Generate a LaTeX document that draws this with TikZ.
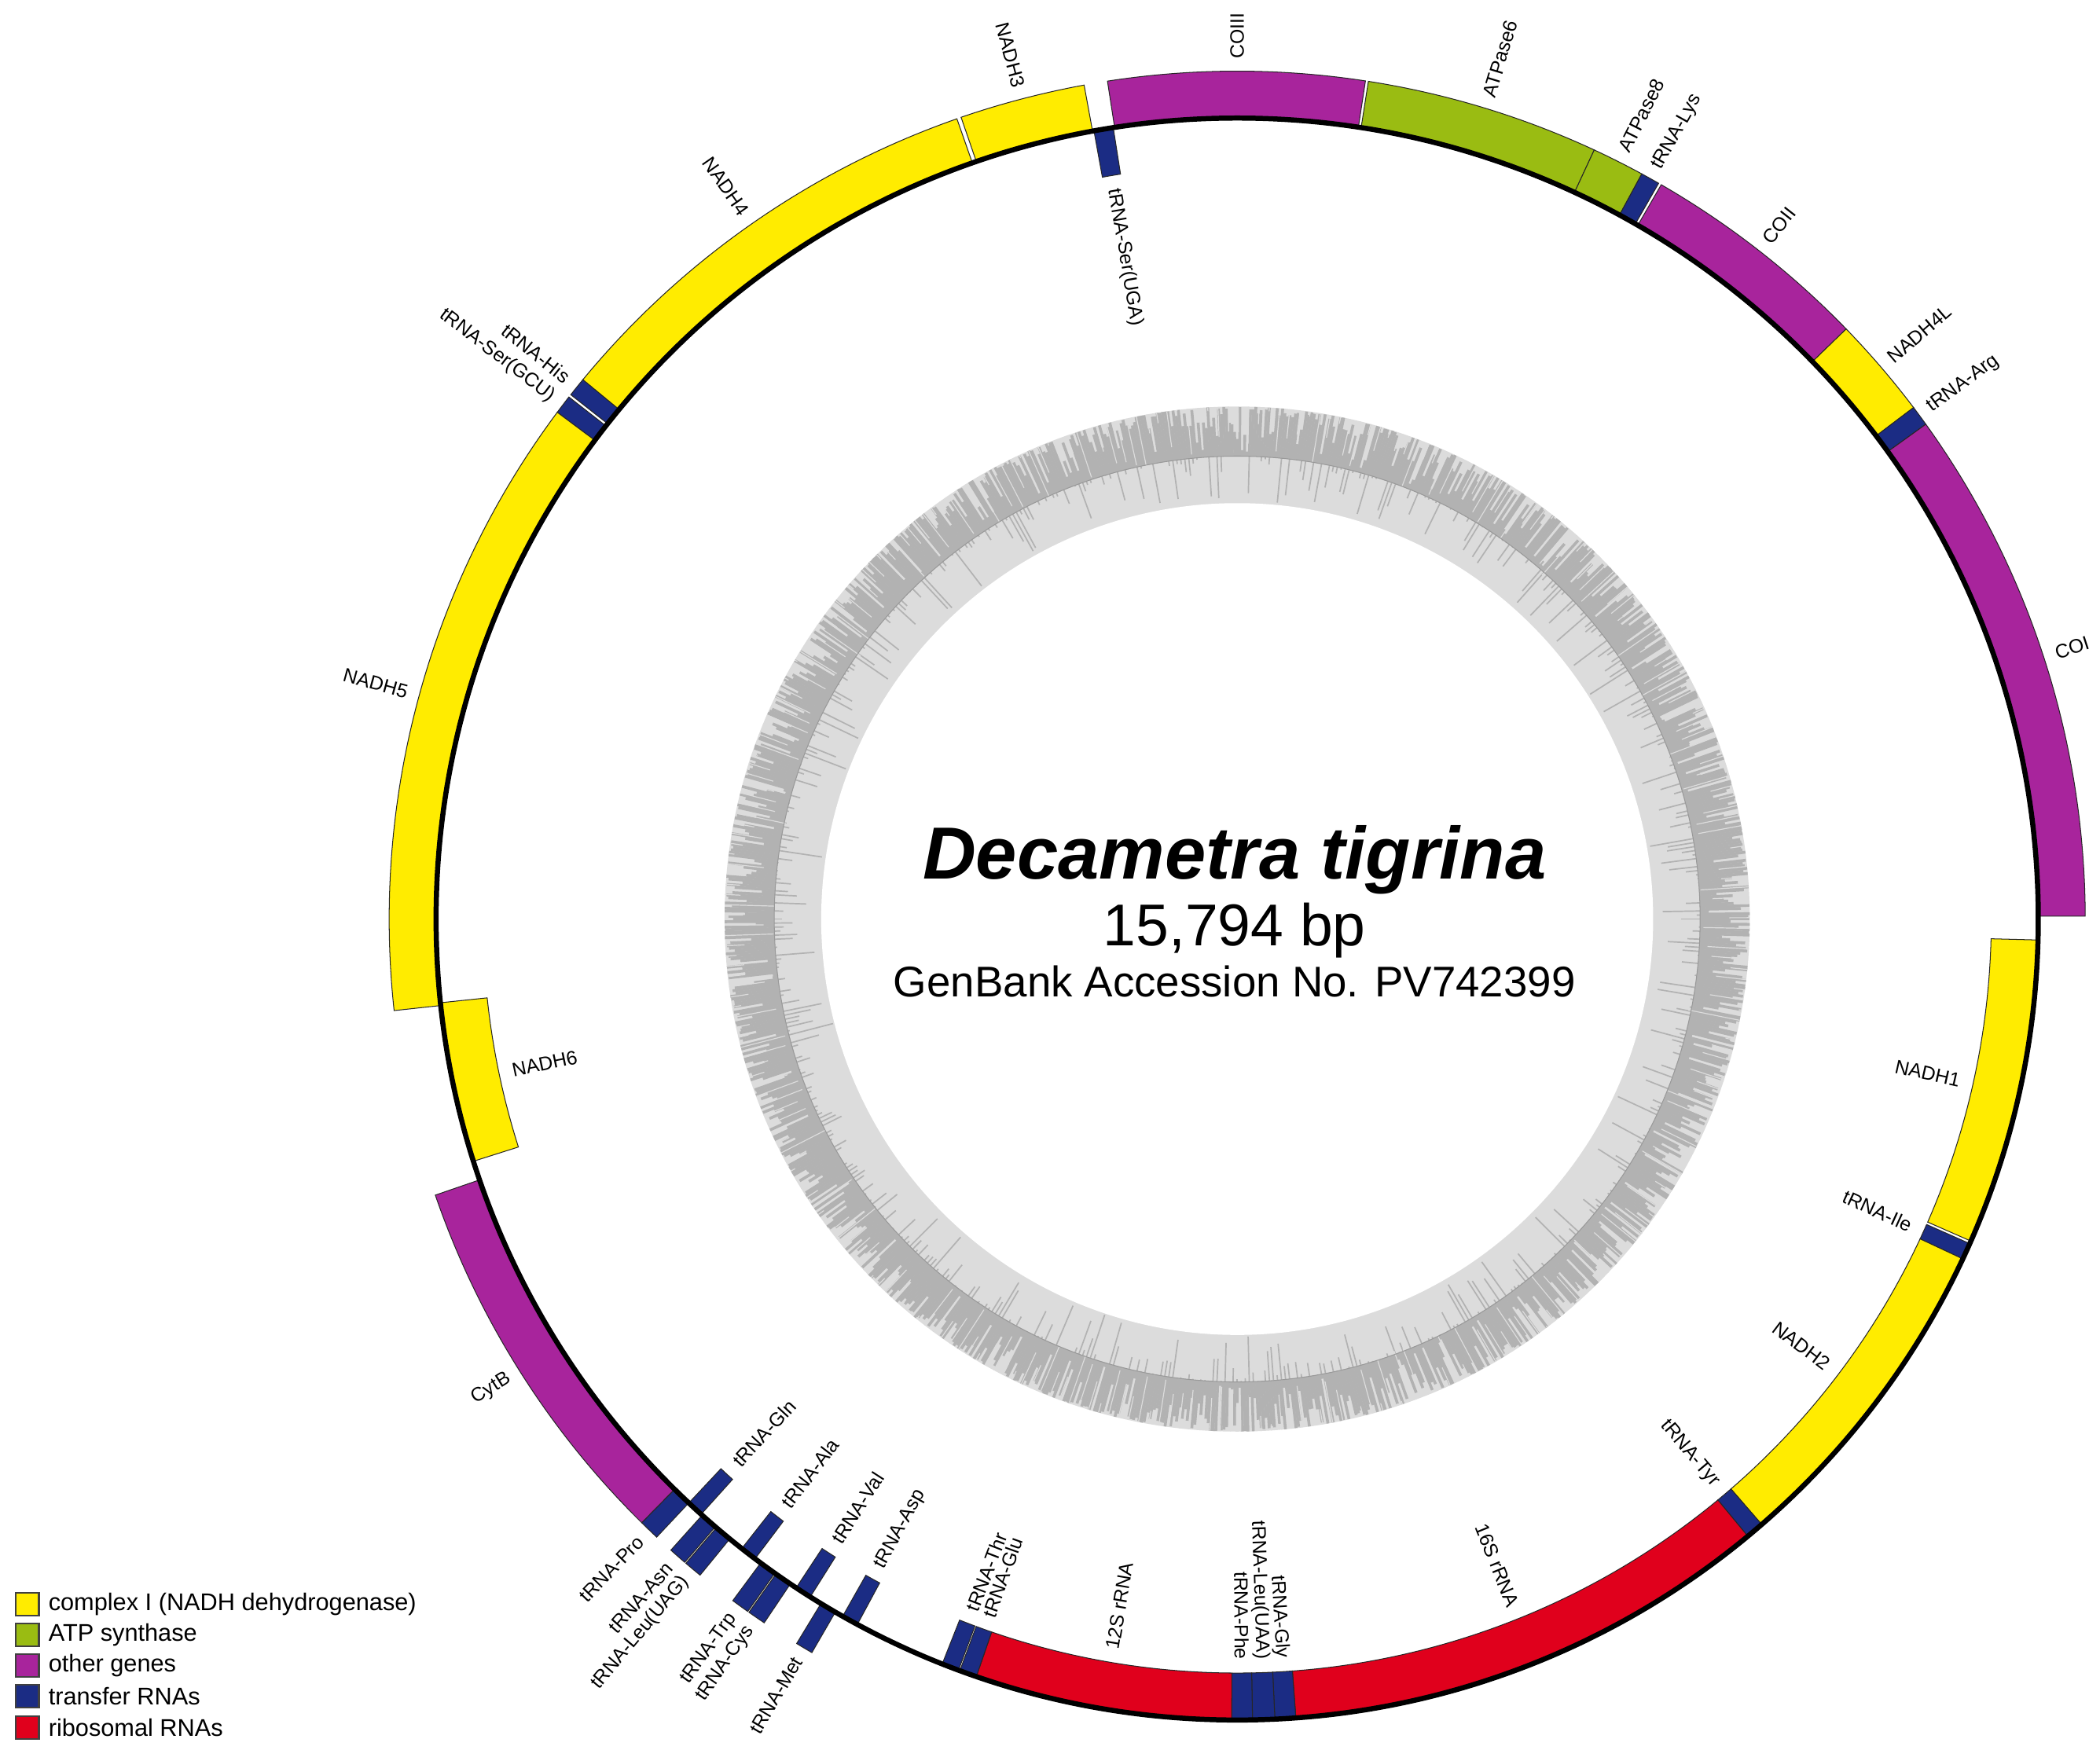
\documentclass[tikz,border=0pt]{standalone}
\usepackage{fontspec}
\setmainfont{Liberation Sans}
\definecolor{cyel}{HTML}{FFEC00}
\definecolor{cgrn}{HTML}{9ABC12}
\definecolor{cpur}{HTML}{A8249C}
\definecolor{ctrn}{HTML}{1B2C84}
\definecolor{crib}{HTML}{E0001C}
\definecolor{gclight}{HTML}{DCDCDC}
\definecolor{gcdark}{HTML}{B2B2B2}
\newcounter{labcnt}
\tikzset{lab/.style={font=\fontsize{14.5}{16}\selectfont, inner sep=0pt, text=black},
 genebox/.style={draw=black!85, line width=0.6}}
% theta1 theta2 r1 r2 colour (angles clockwise from top)
\newcommand\garc[5]{%
 \fill[#5, genebox] ({90-(#1)}:#3) arc[start angle={90-(#1)}, end angle={90-(#2)}, radius=#3] -- ({90-(#2)}:#4) arc[start angle={90-(#2)}, end angle={90-(#1)}, radius=#4] -- cycle;}
\newcommand\og[3]{\garc{#1}{#2}{597}{632}{#3}}
\newcommand\ig[3]{\garc{#1}{#2}{562}{597}{#3}}
\newcommand\olab[2]{\stepcounter{labcnt}%
 \pgfmathsetmacro\aa{90-(#1)}\pgfmathsetmacro\cc{cos(\aa)}\pgfmathsetmacro\bb{\aa+180}%
 \ifdim\cc pt<0pt \node[lab,anchor=east,rotate=\bb] (lab\thelabcnt) at (\aa:641) {#2};%
 \else \node[lab,anchor=west,rotate=\aa] (lab\thelabcnt) at (\aa:641) {#2};\fi}
\newcommand\ilab[2]{\stepcounter{labcnt}%
 \pgfmathsetmacro\aa{90-(#1)}\pgfmathsetmacro\cc{cos(\aa)}\pgfmathsetmacro\bb{\aa+180}%
 \ifdim\cc pt<0pt \node[lab,anchor=west,rotate=\bb] (lab\thelabcnt) at (\aa:552) {#2};%
 \else \node[lab,anchor=east,rotate=\aa] (lab\thelabcnt) at (\aa:552) {#2};\fi}
\begin{document}
\begin{tikzpicture}[x=1pt,y=1pt]
\useasboundingbox[fill=white] (-922,-619) rectangle (643,685);
% GC ring
\pgfmathsetseed{42}
\fill[gclight] (0,0) circle (382);
\fill[white] (0,0) circle (310);
\foreach \i in {0,0.3,...,359.9}{\pgfmathsetmacro\ro{382-34*rnd^3}\draw[gcdark,line width=2.1] (\i:345) -- (\i:\ro);}
\foreach \i in {0,0.5,...,359.9}{\pgfmathsetmacro\ri{345-34*rnd^5}\draw[gcdark,line width=1] (\i:345) -- (\i:\ri);}
\foreach \i in {0.15,1.3,...,359.9}{\pgfmathsetmacro\rl{382-40*rnd}\draw[gclight,line width=0.7] (\i:\rl) -- (\i:382);}
\draw[black!40,line width=0.6] (0,0) circle (345);
% outer strand
\og{-8.8}{8.7}{cpur}
\og{8.9}{24.9}{cgrn}
\og{24.9}{28.5}{cgrn}
\og{28.5}{29.8}{ctrn}
\og{30.0}{45.9}{cpur}
\og{45.9}{52.9}{cyel}
\og{52.9}{54.3}{ctrn}
\og{54.3}{89.8}{cpur}
\og{-19.0}{-10.4}{cyel}
\og{-50.5}{-19.3}{cyel}
\og{-51.8}{-50.5}{ctrn}
\og{-53.3}{-52.0}{ctrn}
\og{-96.2}{-53.3}{cyel}
\og{-109}{-135.4}{cpur}
\og{-135.4}{-136.8}{ctrn}
\og{-138.1}{-139.35}{ctrn}
\og{-139.45}{-140.7}{ctrn}
\og{-143.5}{-144.75}{ctrn}
\og{-144.85}{-146.1}{ctrn}
\og{-148.7}{-149.9}{ctrn}
% inner strand
\ig{-10.3}{-8.9}{ctrn}
\ig{-107.6}{-96.0}{cyel}
\ig{91.5}{113.7}{cyel}
\ig{113.9}{115.1}{ctrn}
\ig{115.1}{139.1}{cyel}
\ig{139.1}{140.4}{ctrn}
\ig{140.4}{175.8}{crib}
\ig{175.8}{177.3}{ctrn}
\ig{177.3}{178.9}{ctrn}
\ig{178.9}{180.4}{ctrn}
\ig{180.4}{199.0}{crib}
\ig{199.0}{200.25}{ctrn}
\ig{200.35}{201.6}{ctrn}
\ig{208.3}{209.5}{ctrn}
\ig{212.2}{213.4}{ctrn}
\ig{217.0}{218.2}{ctrn}
\ig{222.0}{223.2}{ctrn}
% backbone
\draw[black,line width=3.8] (0,0) circle (597);
% outer labels
\olab{0}{COIII}
\olab{17}{ATPase6}
\olab{26.7}{ATPase8}
\olab{29.2}{tRNA-Lys}
\olab{38}{COII}
\olab{49.4}{NADH4L}
\olab{53.6}{tRNA-Arg}
\olab{72}{COI}
\olab{-14.7}{NADH3}
\olab{-34.9}{NADH4}
\olab{-51.1}{tRNA-His}
\olab{-52.7}{tRNA-Ser(GCU)}
\olab{-74.7}{NADH5}
\olab{-122.2}{CytB}
\olab{-136.1}{tRNA-Pro}
\olab{-138.7}{tRNA-Asn}
\olab{-140.1}{tRNA-Leu(UAG)}
\olab{-144.1}{tRNA-Trp}
\olab{-145.5}{tRNA-Cys}
\olab{-149.3}{tRNA-Met}
% inner labels
\ilab{-9.6}{tRNA-Ser(UGA)}
\ilab{-101.8}{NADH6}
\ilab{102.6}{NADH1}
\ilab{114.5}{tRNA-Ile}
\ilab{127.1}{NADH2}
\ilab{139.75}{tRNA-Tyr}
\ilab{158.1}{16S rRNA}
\ilab{176.55}{tRNA-Gly}
\ilab{178.1}{tRNA-Leu(UAA)}
\ilab{179.65}{tRNA-Phe}
\ilab{189.7}{12S rRNA}
\ilab{199.6}{tRNA-Glu}
\ilab{201.0}{tRNA-Thr}
\ilab{208.9}{tRNA-Asp}
\ilab{212.8}{tRNA-Val}
\ilab{217.6}{tRNA-Ala}
\ilab{222.6}{tRNA-Gln}
% title
\node[anchor=base,font=\fontsize{55}{60}\selectfont\bfseries\itshape] (title) at (-2,30) {Decametra tigrina};
\node[anchor=base,font=\fontsize{44}{48}\selectfont] (size) at (-2,-20) {15,794 bp};
\node[anchor=base,font=\fontsize{32}{36}\selectfont] (acc) at (-2,-58) {GenBank Accession No. PV742399};
% legend
\foreach \c/\t [count=\k from 0] in {cyel/complex I (NADH dehydrogenase),cgrn/ATP synthase,cpur/other genes,ctrn/transfer RNAs,crib/ribosomal RNAs}{
 \fill[\c,draw=black!75,line width=1.2] (-910,{685-1187-23*\k}) rectangle (-893,{685-1204-23*\k});
 \node[anchor=west,inner sep=0pt,font=\fontsize{18}{20}\selectfont] (leg\k) at (-886,{685-1195.5-23*\k}) {\t};
}
\end{tikzpicture}
\end{document}
